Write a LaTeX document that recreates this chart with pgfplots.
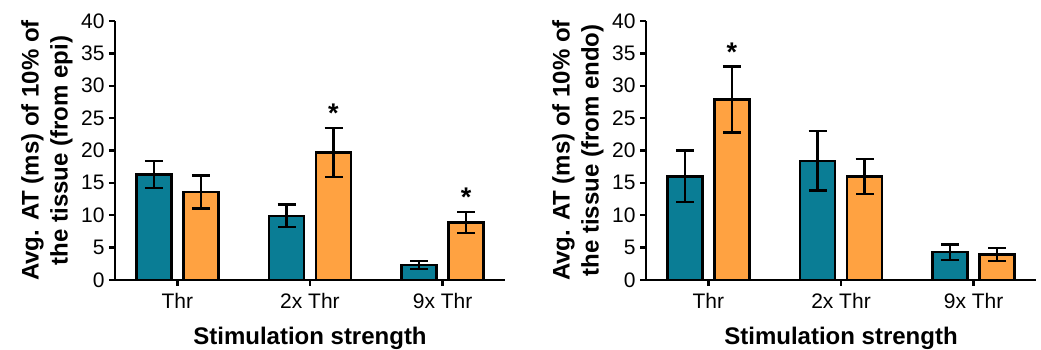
\documentclass[border=0pt]{standalone}
\usepackage{pgfplots}
\pgfplotsset{compat=1.18}
\usepackage{fontspec}
\setmainfont{Liberation Sans}
\definecolor{tealbar}{HTML}{0A7D95}
\definecolor{orangebar}{HTML}{FFA241}
\pgfplotsset{
  mybars/.style={
    scale only axis,
    width=390pt, height=259pt,
    anchor=south west,
    ybar, bar width=35pt,
    xmin=-0.47, xmax=2.47,
    ymin=0, ymax=40,
    ytick={0,5,...,40},
    xtick={0,1,2},
    xticklabels={Thr,2x Thr,9x Thr},
    axis lines*=left,
    axis line style={line width=2.4pt, -},
    tick style={black, line width=2.4pt},
    tick align=outside,
    major tick length=6pt,
    ticklabel style={font=\fontsize{21}{23}\selectfont},
    /pgf/number format/assume math mode=true,
    yticklabel style={xshift=-1pt},
    xticklabel style={yshift=-4pt},
    xlabel={Stimulation strength},
    xlabel style={at={(axis description cs:0.5,0)}, anchor=base, yshift=-65pt, font=\bfseries\fontsize{24}{28}\selectfont},
    ylabel style={at={([xshift=-68pt]axis description cs:0,0.5)}, anchor=center, align=center, font=\bfseries\fontsize{24}{29}\selectfont},
    error bars/y dir=both, error bars/y explicit,
    error bars/error bar style={line width=2.4pt, black},
    error bars/error mark options={line width=2.4pt, black, mark size=9pt, rotate=90},
    clip=false,
  },
  tealstyle/.style={fill=tealbar, draw=black, line width=2.4pt, bar shift=-23.5pt},
  orangestyle/.style={fill=orangebar, draw=black, line width=2.4pt, bar shift=23.5pt},
}
\begin{document}
\begin{tikzpicture}
\useasboundingbox (0,0) rectangle (1041pt,350pt);
\begin{axis}[mybars, at={(115pt,70pt)},
  ylabel={Avg. AT (ms) of 10\% of\\the tissue (from epi)}]
\addplot[tealstyle] coordinates {(0,16.3) +- (0,2.05) (1,9.9) +- (0,1.75) (2,2.3) +- (0,0.6)};
\addplot[orangestyle] coordinates {(0,13.6) +- (0,2.55) (1,19.7) +- (0,3.8) (2,8.9) +- (0,1.6)};
\node[font=\bfseries\fontsize{27}{28}\selectfont, anchor=base] at (axis cs:1.177,24.4) {*};
\node[font=\bfseries\fontsize{27}{28}\selectfont, anchor=base] at (axis cs:2.177,11.3) {*};
\end{axis}
\begin{axis}[mybars, at={(646pt,70pt)},
  ylabel={Avg. AT (ms) of 10\% of\\the tissue (from endo)}]
\addplot[tealstyle] coordinates {(0,16.0) +- (0,4.0) (1,18.4) +- (0,4.6) (2,4.3) +- (0,1.2)};
\addplot[orangestyle] coordinates {(0,27.9) +- (0,5.1) (1,16.0) +- (0,2.7) (2,3.95) +- (0,1.0)};
\node[font=\bfseries\fontsize{27}{28}\selectfont, anchor=base] at (axis cs:0.177,33.8) {*};
\end{axis}
\end{tikzpicture}
\end{document}
